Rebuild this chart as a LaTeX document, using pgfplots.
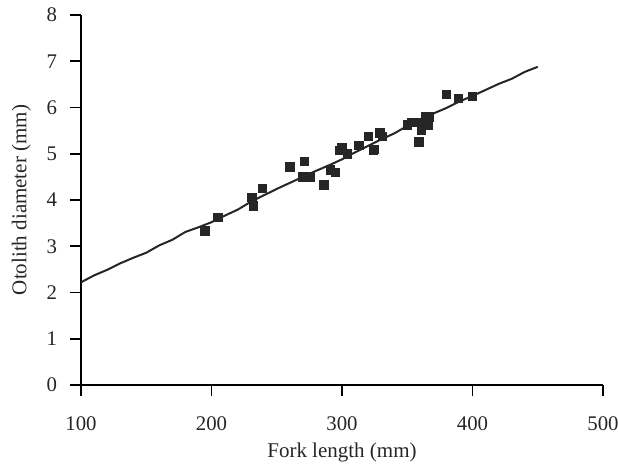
\documentclass[border=0pt]{standalone}
\usepackage{pgfplots}
\pgfplotsset{compat=1.18}
\usepackage{fontspec}
\setmainfont{Liberation Serif}
\begin{document}
\begin{tikzpicture}
\begin{axis}[name=ax,
width=261pt,height=185pt,scale only axis,
xmin=100,xmax=500,ymin=0,ymax=8,
xtick={100,200,...,500},ytick={0,1,...,8},
axis lines=left,axis line style={-,line width=0.8pt},
tick align=outside,major tick length=5.5pt,
tick style={line width=0.8pt,black},
xlabel={Fork length (mm)},ylabel={Otolith diameter (mm)},
/pgf/number format/assume math mode=true,
tick label style={font=\fontsize{10.4}{12}\selectfont,text=black!85},
xticklabel style={yshift=-7pt},
yticklabel style={xshift=-3pt},
label style={font=\fontsize{10.5}{12}\selectfont,text=black!85},
xlabel style={yshift=1pt},
ylabel shift=1pt,
clip=false]
\addplot[only marks,mark=square*,mark size=2.1pt,black!85] coordinates {
(195,3.33) (205,3.63) (231,4.05) (232,3.87) (239,4.25) (260,4.72)
(270,4.50) (271,4.83) (274,4.50) (276,4.50) (286,4.33) (291,4.65)
(295,4.60) (298,5.07) (300,5.13) (304,5.00) (313,5.18) (320,5.38)
(324,5.07) (325,5.10) (329,5.45) (331,5.38) (350,5.62) (353,5.68)
(355,5.68) (358,5.68) (359,5.26) (361,5.50) (363,5.62) (364,5.80)
(365,5.75) (366,5.70) (367,5.80) (366,5.62) (380,6.28) (389,6.20)
(400,6.24)};
\addplot[line width=1pt,black!85] coordinates {
(100,2.22) (110,2.37) (120,2.49) (130,2.63) (140,2.75) (150,2.86)
(160,3.02) (170,3.14) (180,3.31) (190,3.41) (200,3.52) (210,3.66)
(220,3.79) (230,3.96) (240,4.10) (250,4.24) (260,4.37) (270,4.50)
(280,4.63) (290,4.75) (300,4.88) (310,5.03) (320,5.17) (330,5.31)
(340,5.44) (350,5.60) (360,5.74) (370,5.87) (380,5.99) (390,6.13)
(400,6.25) (410,6.38) (420,6.51) (430,6.62) (440,6.77) (450,6.88)};
\end{axis}
\pgfresetboundingbox
\path ([shift={(-40.5pt,-41pt)}]ax.south west) rectangle ([shift={(7.5pt,7.5pt)}]ax.north east);
\end{tikzpicture}
\end{document}
